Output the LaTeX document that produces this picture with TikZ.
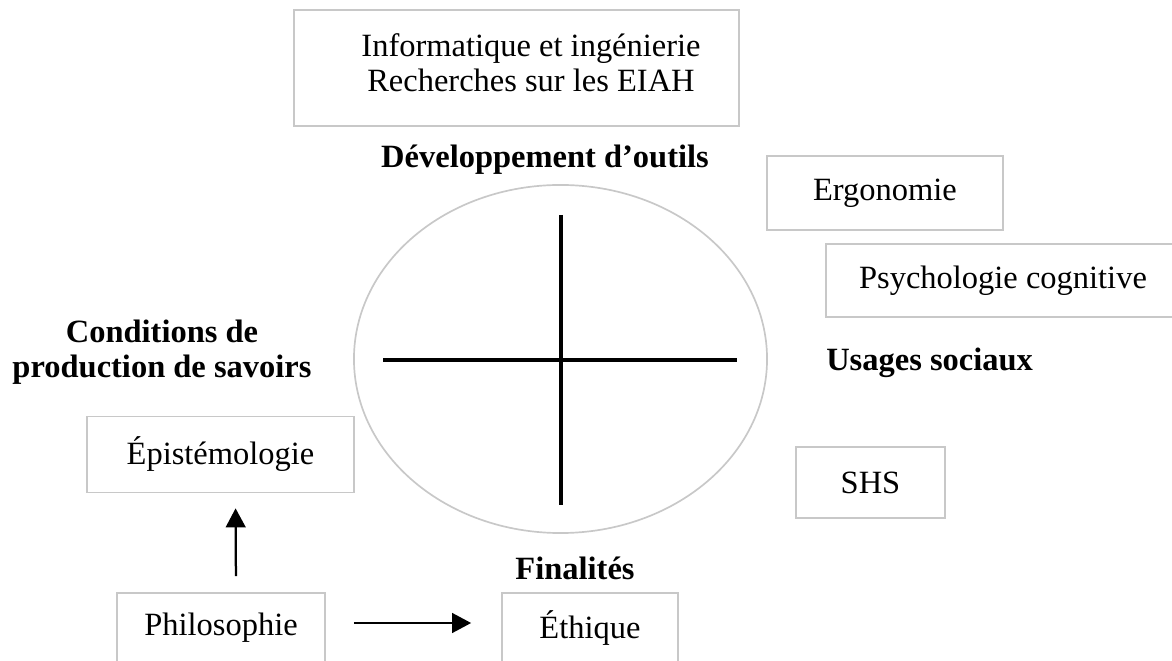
\documentclass[tikz,border=0pt]{standalone}
\usepackage{fontspec}
\setmainfont{Liberation Serif}
\usetikzlibrary{arrows.meta}
\definecolor{boxgray}{RGB}{200,200,200}
\begin{document}
\begin{tikzpicture}[x=0.025cm, y=-0.025cm, >={Triangle[length=13.5pt,width=14pt]}]
\tikzstyle{box}=[rectangle,draw=boxgray,line width=1.2pt,inner sep=0pt]
\tikzstyle{title}=[font=\bfseries,align=center,inner sep=0pt]
\tikzstyle{axis}=[line width=2.6pt,black]
\tikzstyle{flow}=[line width=1.6pt,black]
\fontsize{23.1}{24.9}\selectfont
\useasboundingbox (0,0) rectangle (1172,661);

\node[box,minimum width=11.125cm,minimum height=2.9cm](info) at (516.5,68) {};
\node[align=center,inner sep=0pt](infotext) at (531,63) {Informatique et ingénierie\\Recherches sur les EIAH};
\node[title](dev) at (545,160) {Développement d’outils};

% cercle central
\coordinate (centre) at (560.5,359);
\draw[boxgray,line width=1.2pt] (centre) ellipse [x radius=5.1625cm, y radius=4.35cm];
\coordinate (haut) at (561,215);
\coordinate (bas) at (561,505);
\coordinate (gauche) at (383,360);
\coordinate (droite) at (737,360);
\draw[axis] (haut) -- (bas);
\draw[axis] (gauche) -- (droite);

\node[box,minimum width=5.9cm,minimum height=1.85cm](ergo) at (885,193) {Ergonomie};
\node[box,minimum width=8.85cm,minimum height=1.825cm](psy) at (1003,280.5) {Psychologie cognitive};
\node[title,anchor=west](usages) at (826,363) {Usages sociaux};
\node[box,minimum width=3.725cm,minimum height=1.775cm](shs) at (870.5,482.5) {SHS};

\node[title](cond) at (162,352) {Conditions de\\production de savoirs};
\node[box,minimum width=6.675cm,minimum height=1.9cm](epist) at (220.5,454.5) {Épistémologie};
\node[box,minimum width=5.2cm,minimum height=1.75cm](philo) at (221,628) {Philosophie};
\node[title](final) at (575,568) {Finalités};
\node[box,minimum width=4.4cm,minimum height=1.75cm](ethique) at (590,628) {Éthique};

\draw[->,flow,shorten <=0.7cm,shorten >=0.75cm] ([yshift=0.125cm]philo.east) -- ([yshift=0.125cm]ethique.west);
\draw[->,flow,shorten <=0.4cm,shorten >=0.375cm] ([xshift=0.375cm]philo.north) -- ([xshift=0.375cm]epist.south);

\end{tikzpicture}
\end{document}
